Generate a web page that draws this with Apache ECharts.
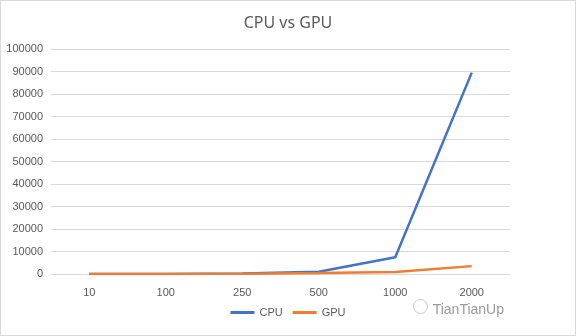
<!DOCTYPE html>
<html><head><meta charset="utf-8">
<script src="https://cdn.jsdelivr.net/npm/echarts@6/dist/echarts.min.js"></script>
<style>html,body{margin:0;padding:0;background:#fff}#c{width:576px;height:336px;box-sizing:border-box;border:1px solid #d9d9d9}</style>
</head><body><div id="c"></div>
<script>
const categories = ['10','100','250','500','1000','2000'];
const cpuValues = [20, 40, 200, 1000, 7400, 89500];
const gpuValues = [10, 20, 80, 400, 900, 3500];
const chart = echarts.init(document.getElementById('c'));
chart.setOption({
  animation:false,
  textStyle:{fontFamily:'Liberation Sans, Arial, sans-serif'},
  title:{text:'CPU vs GPU',left:'center',top:9,textStyle:{fontSize:16,fontWeight:'normal',color:'#595959',fontFamily:'Noto Sans, sans-serif'}},
  grid:{left:50,right:65,top:48,bottom:61},
  xAxis:{type:'category',data:categories,boundaryGap:true,
    axisLine:{lineStyle:{color:'#d9d9d9'}},axisTick:{show:false},
    axisLabel:{color:'#595959',fontSize:11,margin:13}},
  yAxis:{type:'value',min:0,max:100000,interval:10000,
    axisLine:{show:false},axisTick:{show:false},
    splitLine:{lineStyle:{color:'#d9d9d9'}},
    axisLabel:{color:'#595959',fontSize:11,margin:8,formatter:v=>String(v)}},
  legend:{bottom:12,left:'center',itemWidth:24,itemHeight:3,itemGap:10,icon:'rect',
    textStyle:{color:'#595959',fontSize:11},data:['CPU','GPU']},
  series:[
    {name:'CPU',type:'line',data:cpuValues,symbol:'none',lineStyle:{width:2.5,color:'#4472c4'},itemStyle:{color:'#4472c4'}},
    {name:'GPU',type:'line',data:gpuValues,symbol:'none',lineStyle:{width:2.5,color:'#ed7d31'},itemStyle:{color:'#ed7d31'}}
  ],
  graphic:[{type:'text',right:71,bottom:18,style:{text:'TianTianUp',fill:'#9a9a9a',fontSize:14,fontFamily:'Liberation Sans, sans-serif'}},
    {type:'circle',shape:{cx:0,cy:0,r:7},left:410,bottom:19,style:{fill:'none',stroke:'#c8c8c8',lineWidth:1}}]
});
</script></body></html>
